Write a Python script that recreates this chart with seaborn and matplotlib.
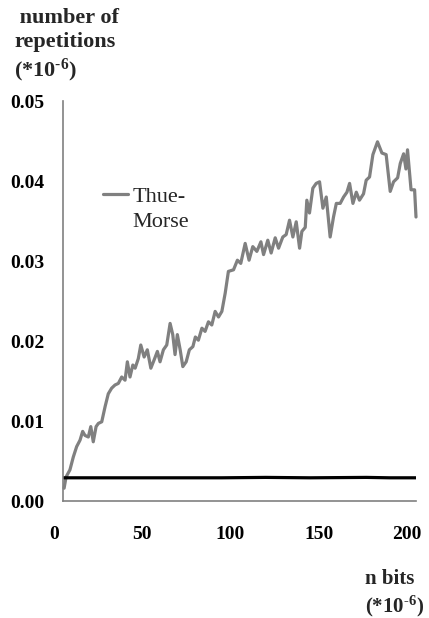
import matplotlib
matplotlib.use("Agg")
import matplotlib.pyplot as plt
import matplotlib.transforms as mtransforms
import seaborn as sns
import pandas as pd

# Thue-Morse repetition counts (gray) and the reference level (black)
tm_bits = [0.8, 1.9, 4.1, 6.0, 7.9, 9.8, 11.3, 12.6, 14.5, 15.9, 17.3, 18.9, 20.2,
           22.1, 24.0, 25.8, 27.7, 29.6, 31.5, 33.4, 35.3, 36.6, 38.1, 39.7, 41.0,
           42.8, 44.2, 46.1, 47.9, 49.9, 51.7, 53.6, 55.1, 57.0, 58.9, 60.8, 62.3,
           63.6, 64.9, 66.5, 68.0, 69.9, 71.7, 73.7, 75.1, 76.8, 78.8, 80.6, 82.5,
           84.4, 86.3, 88.2, 90.1, 92.0, 93.8, 96.7, 98.9, 100.8, 103.3, 105.5,
           107.6, 109.9, 112.2, 113.7, 116.1, 118.0, 120.3, 122.2, 124.6, 126.5,
           128.4, 130.3, 132.2, 134.1, 135.4, 137.3, 138.2, 139.7, 141.6, 143.5,
           145.4, 147.3, 149.2, 151.4, 153.3, 154.9, 157.1, 159.0, 160.9, 162.4,
           164.3, 166.2, 168.0, 170.3, 171.8, 173.7, 175.6, 178.2, 180.7, 183.1,
           185.4, 187.3, 189.6, 191.1, 193.0, 194.3, 195.2, 197.2, 199.2, 200.0]
tm_reps = [0.0016, 0.0030, 0.0039, 0.0055, 0.0068, 0.0076, 0.0087, 0.0082, 0.0080,
           0.0093, 0.0074, 0.0093, 0.0097, 0.0099, 0.0118, 0.0134, 0.0141, 0.0145,
           0.0147, 0.0155, 0.0151, 0.0174, 0.0155, 0.0170, 0.0166, 0.0178, 0.0195,
           0.0180, 0.0189, 0.0166, 0.0176, 0.0187, 0.0174, 0.0189, 0.0195, 0.0222,
           0.0208, 0.0183, 0.0208, 0.0189, 0.0168, 0.0174, 0.0189, 0.0193, 0.0205,
           0.0201, 0.0216, 0.0212, 0.0224, 0.0220, 0.0237, 0.0230, 0.0237, 0.0260,
           0.0287, 0.0289, 0.0301, 0.0297, 0.0322, 0.0301, 0.0318, 0.0312, 0.0324,
           0.0308, 0.0326, 0.0310, 0.0329, 0.0316, 0.0330, 0.0333, 0.0351, 0.0330,
           0.0349, 0.0316, 0.0337, 0.0342, 0.0376, 0.0360, 0.0391, 0.0397, 0.0399,
           0.0366, 0.0380, 0.0330, 0.0355, 0.0372, 0.0372, 0.0380, 0.0386, 0.0397,
           0.0372, 0.0386, 0.0376, 0.0384, 0.0401, 0.0405, 0.0433, 0.0449, 0.0435,
           0.0433, 0.0387, 0.0399, 0.0404, 0.0422, 0.0434, 0.0415, 0.0439, 0.0389,
           0.0389, 0.0355]

ref_bits = [0.5, 30, 60, 90, 115, 140, 172, 185, 200]
ref_reps = [0.0029, 0.0029, 0.0029, 0.0029, 0.00295, 0.0029, 0.00295, 0.0029, 0.0029]

y_ticks = [0.00, 0.01, 0.02, 0.03, 0.04, 0.05]
x_ticks = [0, 50, 100, 150, 200]

sns.set_style("white")
plt.rcParams["font.family"] = ["Liberation Serif", "DejaVu Serif"]
plt.rcParams["mathtext.fontset"] = "custom"
plt.rcParams["mathtext.rm"] = "Liberation Serif:bold"
plt.rcParams["mathtext.default"] = "rm"
plt.rcParams["axes.unicode_minus"] = False

fig = plt.figure(figsize=(4.29, 6.18), dpi=100)
ax = fig.add_axes([62.7 / 429, 1 - 501 / 618, (416 - 62.7) / 429, 400 / 618])

tm_df = pd.DataFrame({"bits": tm_bits, "reps": tm_reps})
ref_df = pd.DataFrame({"bits": ref_bits, "reps": ref_reps})

sns.lineplot(data=tm_df, x="bits", y="reps", ax=ax, color="#808080",
             linewidth=2.3, label="Thue-", clip_on=False)
sns.lineplot(data=ref_df, x="bits", y="reps", ax=ax, color="black",
             linewidth=2.3, legend=False)

ax.set_xlim(0, 200)
ax.set_ylim(0, 0.05)
ax.set_xticks(x_ticks)
ax.set_yticks(y_ticks)
ax.set_yticklabels([f"{v:.2f}" for v in y_ticks])
ax.set_xlabel("")
ax.set_ylabel("")

for side in ("top", "right"):
    ax.spines[side].set_visible(False)
for side in ("left", "bottom"):
    ax.spines[side].set_color("#808080")
    ax.spines[side].set_linewidth(1.2)

ax.tick_params(axis="both", direction="out", length=5, width=1,
               color="#808080", labelsize=14, labelcolor="black")
ax.tick_params(axis="x", pad=13)
ax.tick_params(axis="y", pad=8)
for lab in ax.get_xticklabels() + ax.get_yticklabels():
    lab.set_fontweight("bold")
shift = mtransforms.ScaledTranslation(-9 / 100, 0, fig.dpi_scale_trans)
for lab in ax.get_xticklabels():
    lab.set_transform(lab.get_transform() + shift)

leg = ax.legend(loc="upper left", bbox_to_anchor=(0.09, 0.808), frameon=False,
                fontsize=16, handlelength=1.1, handletextpad=0.2,
                borderaxespad=0)
ax.annotate("Morse", xy=(0, 0), xycoords=leg.get_texts()[0],
            xytext=(0, -6), textcoords="offset pixels",
            ha="left", va="top", fontsize=16, zorder=10,
            annotation_clip=False)

unit = r"(*10$^{\text{-}6}$)"
fig.text(14 / 429, 1 - 8 / 618, " number of\nrepetitions\n" + unit,
         ha="left", va="top", fontsize=16, fontweight="bold", linespacing=1.25)
fig.text(365 / 429, 1 - 569 / 618, "n bits\n" + unit,
         ha="left", va="top", fontsize=15, fontweight="bold", linespacing=1.25)

fig.savefig("out.png", dpi=100)
